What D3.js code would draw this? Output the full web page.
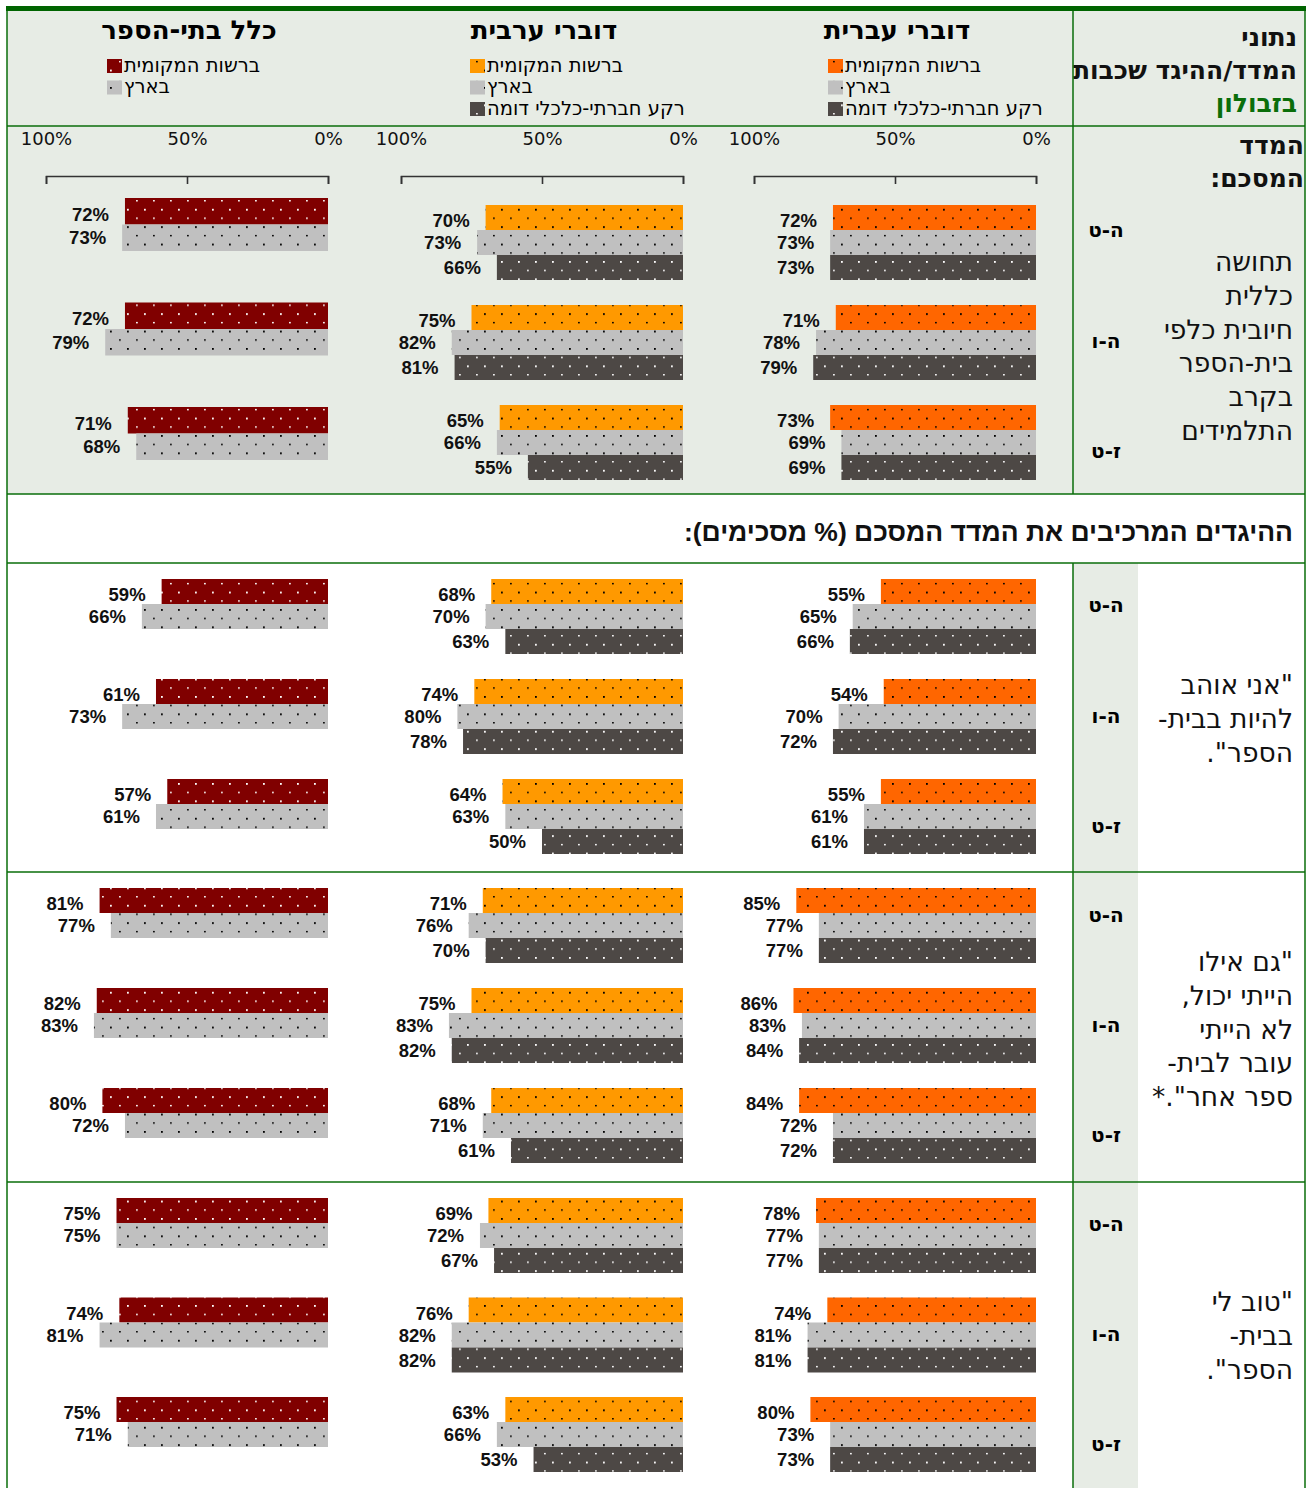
<!DOCTYPE html>
<html lang="he">
<head>
<meta charset="utf-8">
<script src="https://cdn.jsdelivr.net/npm/d3@7"></script>
<style>
body { margin: 0; background: #fff; }
svg { display: block; font-family: "DejaVu Sans", sans-serif; }
.num { font-family: "Liberation Sans", Arial, sans-serif; font-weight: bold; font-size: 18.5px; fill: #111; }
.tick text { font-family: "DejaVu Sans", sans-serif; font-size: 18px; fill: #111; }
</style>
</head>
<body>
<svg width="1309" height="1488"></svg>
<script>
var grades = ["ה-ט", "ה-ו", "ז-ט"]
var panelTitles = ["דוברי עברית", "דוברי ערבית", "כלל בתי-הספר"]
var seriesNames = ["ברשות המקומית", "בארץ", "רקע חברתי-כלכלי דומה"]
var tickValues = [0, 50, 100]

// values per grade group, in series order
var summaryHeb = [[72, 73, 73], [71, 78, 79], [73, 69, 69]]
var summaryArab = [[70, 73, 66], [75, 82, 81], [65, 66, 55]]
var summaryAll = [[72, 73], [72, 79], [71, 68]]
var loveHeb = [[55, 65, 66], [54, 70, 72], [55, 61, 61]]
var loveArab = [[68, 70, 63], [74, 80, 78], [64, 63, 50]]
var loveAll = [[59, 66], [61, 73], [57, 61]]
var stayHeb = [[85, 77, 77], [86, 83, 84], [84, 72, 72]]
var stayArab = [[71, 76, 70], [75, 83, 82], [68, 71, 61]]
var stayAll = [[81, 77], [82, 83], [80, 72]]
var goodHeb = [[78, 77, 77], [74, 81, 81], [80, 73, 73]]
var goodArab = [[69, 72, 67], [76, 82, 82], [63, 66, 53]]
var goodAll = [[75, 75], [74, 81], [75, 71]]

var summaryText = ["תחושה", "כללית", "חיובית כלפי", "בית-הספר", "בקרב", "התלמידים"]
var loveText = ["\"אני אוהב", "להיות בבית-", "הספר\"."]
var stayText = ["\"גם אילו", "הייתי יכול,", "לא הייתי", "עובר לבית-", "ספר אחר\".*"]
var goodText = ["\"טוב לי", "בבית-", "הספר\"."]
var subheadText = "ההיגדים המרכיבים את המדד המסכם (% מסכימים):"

var localColors = ["#ff6600", "#ff9900", "#800000"]
var countryColor = "#c0c0c0"
var similarColor = "#4d4845"
var green = "#0a6e0a"
var bg = "#e7ece5"

var svg = d3.select("svg")
var defs = svg.append("defs")

function dotPattern(id, fill, dot) {
  var p = defs.append("pattern").attr("id", id)
    .attr("patternUnits", "userSpaceOnUse")
    .attr("width", 17).attr("height", 17.4)
  p.append("rect").attr("width", 17).attr("height", 17.4).attr("fill", fill)
  p.append("rect").attr("x", 8).attr("y", 0).attr("width", 1.8).attr("height", 1.8).attr("fill", dot)
  p.append("rect").attr("x", 0).attr("y", 8.7).attr("width", 1.8).attr("height", 1.4).attr("fill", dot)
  return "url(#" + id + ")"
}
var fills = [
  [dotPattern("p0", localColors[0], "#000"), dotPattern("pc", countryColor, "#000"), dotPattern("ps", similarColor, "#fff")],
  [dotPattern("p1", localColors[1], "#000"), "url(#pc)", "url(#ps)"],
  [dotPattern("p2", localColors[2], "#fff"), "url(#pc)"]
]

// table frame
var L = 7, R = 1305, colSplit = 1073, gradeSplit = 1138
var rowTops = [10, 126, 494, 563, 872, 1182, 1488]

svg.append("rect").attr("x", L).attr("y", 10).attr("width", R - L).attr("height", 484).attr("fill", bg)
;[3, 4, 5].forEach(function (i) {
  svg.append("rect").attr("x", colSplit).attr("y", rowTops[i]).attr("width", gradeSplit - colSplit)
    .attr("height", rowTops[i + 1] - rowTops[i]).attr("fill", bg)
})

var panelZero = [1036, 683, 328]
var xs = panelZero.map(function (z) { return d3.scaleLinear().domain([0, 100]).range([z, z - 282]) })

// titles and legends
var legendX = [828, 470, 107]
panelTitles.forEach(function (t, p) {
  svg.append("text").attr("x", (panelZero[p] + xs[p](100)) / 2 + 2).attr("y", 39)
    .attr("text-anchor", "middle").attr("direction", "rtl")
    .style("font-weight", "bold").style("font-size", "26px").text(t)
  var names = p == 2 ? seriesNames.slice(0, 2) : seriesNames
  names.forEach(function (n, i) {
    var y = 59 + i * 21.5
    svg.append("rect").attr("x", legendX[p]).attr("y", y).attr("width", 15).attr("height", 14)
      .attr("fill", fills[p][i])
    svg.append("text").attr("x", legendX[p] + 17).attr("y", y + 12.5)
      .attr("direction", "rtl").attr("text-anchor", "end")
      .style("font-size", "19.5px").text(n)
  })
})

// axes in summary row
xs.forEach(function (x) {
  var g = svg.append("g").attr("transform", "translate(0,176)")
    .call(d3.axisBottom(x).tickValues(tickValues).tickSize(8).tickFormat(function (d) { return d + "%" }))
  g.select(".domain").attr("stroke", "#333").attr("stroke-width", 1.6)
  g.selectAll(".tick line").attr("stroke", "#333").attr("stroke-width", 1.6)
  g.selectAll(".tick text").attr("y", -31).attr("dy", 0)
  g.attr("font-family", null).attr("font-size", null)
})

// bar charts
var rows = [
  { top: 205, step: 100, bh: 25, data: [summaryHeb, summaryArab, summaryAll], left: { top: 198, step: 104.5, bh: 26.5 } },
  { top: 579, step: 100, bh: 25, data: [loveHeb, loveArab, loveAll] },
  { top: 888, step: 100, bh: 25, data: [stayHeb, stayArab, stayAll] },
  { top: 1198, step: 99.5, bh: 25, data: [goodHeb, goodArab, goodAll] }
]

rows.forEach(function (row) {
  row.data.forEach(function (vals, p) {
    var cfg = (p == 2 && row.left) ? row.left : row
    var slots = row.left && p == 2 ? 2 : 3
    var y = d3.scaleBand().domain(grades)
      .range([cfg.top, cfg.top + cfg.step * 2 + cfg.bh * slots])
      .paddingInner(1 - cfg.bh * slots / cfg.step)
    var yi = d3.scaleBand().domain(d3.range(slots)).range([0, cfg.bh * slots])
    var flat = []
    vals.forEach(function (gv, gi) {
      gv.forEach(function (v, si) { flat.push({ g: grades[gi], s: si, v: v }) })
    })
    var g = svg.append("g")
    g.selectAll("rect").data(flat).enter().append("rect")
      .attr("x", function (d) { return xs[p](d.v) })
      .attr("y", function (d) { return y(d.g) + yi(d.s) })
      .attr("width", function (d) { return xs[p](0) - xs[p](d.v) })
      .attr("height", yi.bandwidth())
      .attr("fill", function (d) { return fills[p][d.s] })
    g.selectAll("text").data(flat).enter().append("text").attr("class", "num")
      .attr("x", function (d) { return xs[p](d.v) - 16 })
      .attr("y", function (d) { return y(d.g) + yi(d.s) + yi.bandwidth() / 2 + 6.5 + (d.s == 0 ? 3 : 0) })
      .attr("text-anchor", "end")
      .text(function (d) { return d.v + "%" })
  })
})

// right column texts
function rtlText(x, y, t, size, weight, fill) {
  return svg.append("text").attr("x", x).attr("y", y).attr("direction", "rtl").attr("text-anchor", "start")
    .style("font-size", size + "px").style("font-weight", weight || "normal").attr("fill", fill || "#111").text(t)
}
rtlText(1297, 46, "נתוני", 25, "bold")
rtlText(1297, 79, "המדד/ההיגד שכבות", 25, "bold")
rtlText(1297, 112, "בזבולון", 25, "bold", green)
rtlText(1304, 154, "המדד", 25, "bold")
rtlText(1304, 187, "המסכם:", 25, "bold")

var textBlocks = [
  { lines: summaryText, y0: 271, gy: [230, 341, 451] },
  { lines: loveText, y0: 694, gy: [605, 716, 826] },
  { lines: stayText, y0: 971, gy: [915, 1025, 1135] },
  { lines: goodText, y0: 1311, gy: [1224, 1334, 1444] }
]
textBlocks.forEach(function (b) {
  b.lines.forEach(function (l, i) { rtlText(1293, b.y0 + i * 33.8, l, 26.5) })
  grades.forEach(function (gr, i) {
    svg.append("text").attr("x", 1106).attr("y", b.gy[i] + 7).attr("text-anchor", "middle")
      .attr("direction", "rtl").style("font-size", "20px").style("font-weight", "bold").text(gr)
  })
})

rtlText(1293, 541, subheadText, 26.5, "bold").style("font-family", "'Liberation Sans', Arial, sans-serif")

// grid lines
var lines = svg.append("g").attr("stroke", green).attr("stroke-width", 1.5)
rowTops.slice(1, 6).forEach(function (y) {
  lines.append("line").attr("x1", L).attr("x2", R).attr("y1", y).attr("y2", y)
})
lines.append("line").attr("x1", L).attr("x2", L).attr("y1", 10).attr("y2", 1488)
lines.append("line").attr("x1", R).attr("x2", R).attr("y1", 10).attr("y2", 1488)
lines.append("line").attr("x1", colSplit).attr("x2", colSplit).attr("y1", 10).attr("y2", 494)
lines.append("line").attr("x1", colSplit).attr("x2", colSplit).attr("y1", 563).attr("y2", 1488)
svg.append("rect").attr("x", L - 1).attr("y", 6).attr("width", R - L + 2).attr("height", 5).attr("fill", "#006400")
</script>
</body>
</html>
